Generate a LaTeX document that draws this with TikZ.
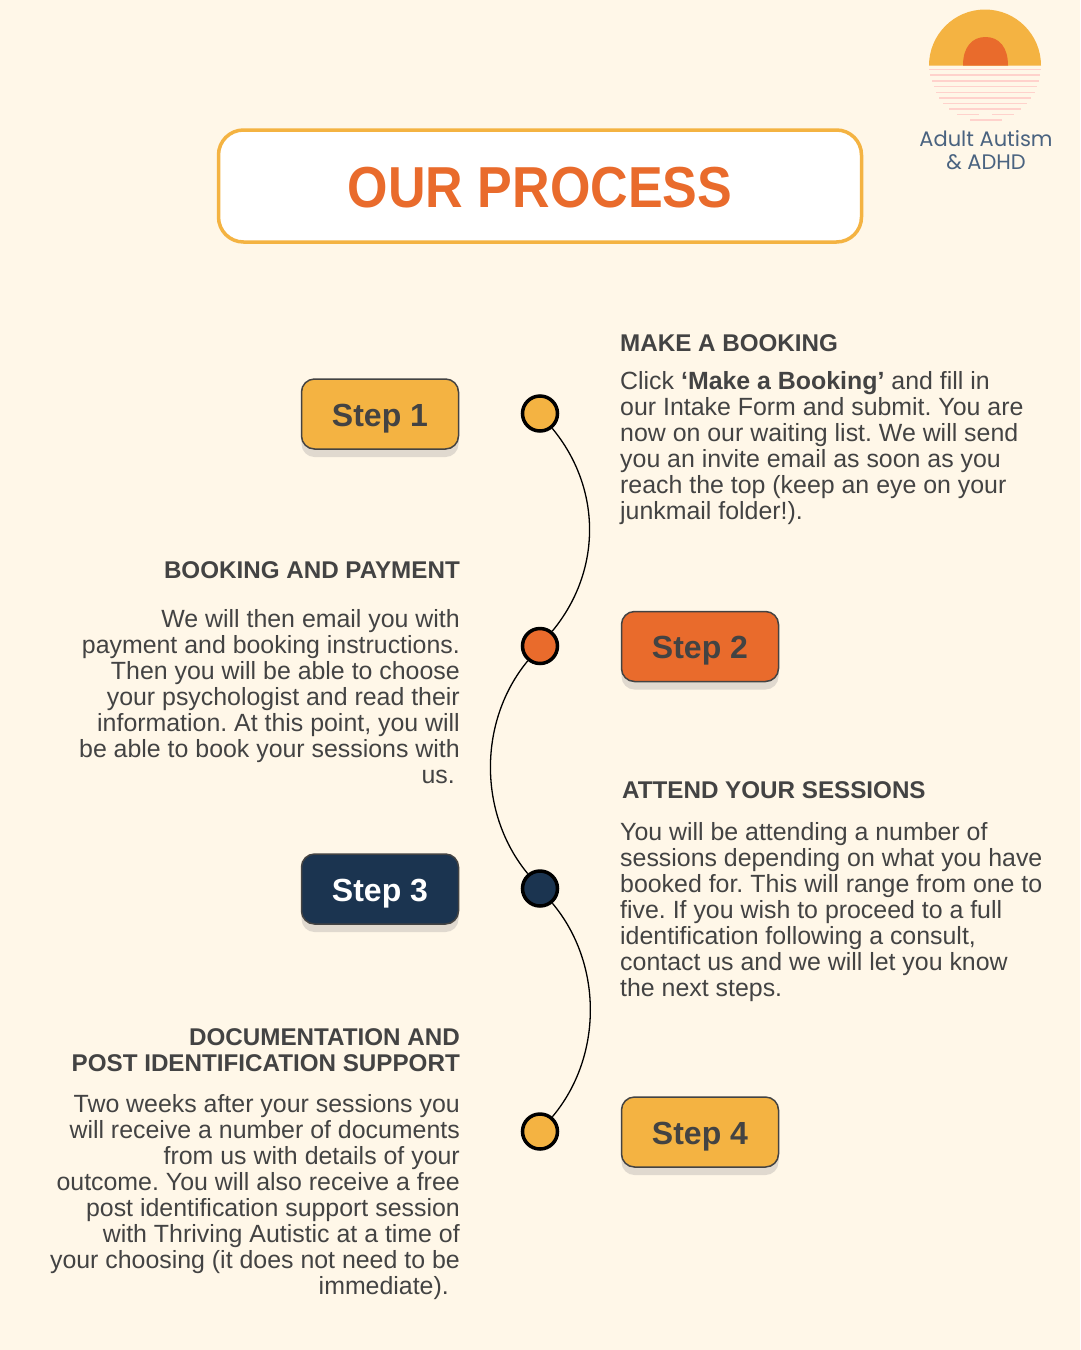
\documentclass[tikz,border=0pt]{standalone}
\usepackage{fontspec}
\setmainfont{Liberation Sans}
\newfontfamily\logofont{Poppins}
\newfontfamily\titlefont[FakeStretch=0.9]{Liberation Sans}
\usetikzlibrary{shadows}
\definecolor{bgc}{HTML}{FFF7E8}
\definecolor{txt}{HTML}{434343}
\definecolor{amber}{HTML}{F4B342}
\definecolor{rust}{HTML}{E96B2C}
\definecolor{navy}{HTML}{1B3450}
\definecolor{shade}{HTML}{E0D9CF}
\definecolor{pinkl}{HTML}{FFD2CC}
\definecolor{logot}{HTML}{4A6380}
\newcommand{\steplabel}[1]{\raisebox{-12pt}[0pt][0pt]{#1}}
\tikzset{
  x=1pt,y=-1pt,
  stepbox/.style={draw=txt,line width=1.5pt,rounded corners=13pt,minimum width=157pt,minimum height=70pt,inner sep=0pt,
    font=\fontsize{32}{32}\selectfont\bfseries,text=txt,general shadow={fill=shade,shadow yshift=-8pt}},
  dot/.style={circle,draw=black,line width=3.5pt,minimum size=35pt,inner sep=0pt},
  link/.style={draw=black,line width=1.3pt},
  head/.style={font=\fontsize{24.2}{26}\selectfont\bfseries,text=txt,inner sep=0pt},
  body/.style={font=\frenchspacing\fontsize{24.9}{26}\selectfont,text=txt,inner sep=0pt},
  sea/.style={draw=pinkl,line width=1.2pt}
}
\begin{document}
\begin{tikzpicture}
\fill[bgc] (0,0) rectangle (1080,1350);
\useasboundingbox (0,0) rectangle (1080,1350);
% logo
\fill[amber] (929,65.5) arc[start angle=180,end angle=0,radius=56pt];
\fill[rust] (963,65.5) .. controls (963,47) and (972,37) .. (985.5,37) .. controls (999,37) and (1008,47) .. (1008,65.5) -- cycle;
\draw[sea] (929,69.7) -- (1041,69.7);
\draw[sea] (930,75) -- (1040,75);
\draw[sea] (932,81) -- (1039,81);
\draw[sea] (934,86.7) -- (1037,86.7);
\draw[sea] (936,92.3) -- (1035,92.3);
\draw[sea] (939,98) -- (1031,98);
\draw[sea] (943,103.3) -- (1027,103.3);
\draw[sea] (949,109) -- (1021,109);
\draw[sea] (957,114.7) -- (979,114.7);
\draw[sea] (992,114.7) -- (1014,114.7);
\draw[sea] (970,120) -- (1002,120);
\node[font=\logofont\fontsize{21}{23.5}\selectfont,text=logot,align=center,inner sep=0pt,anchor=center] (logotext) at (986,150) {Adult Autism\\\& ADHD};
% title
\node[draw=amber,line width=3.5pt,fill=white,rounded corners=25pt,minimum width=643pt,minimum height=112pt,inner sep=0pt] (titlebox) at (540,186) {};
\node[font=\titlefont\fontsize{57.8}{58}\selectfont\bfseries,text=rust,inner sep=0pt] (titletext) at (540,188) {OUR PROCESS};
% steps
\node[stepbox,fill=amber] (s1) at (380,414) {\steplabel{Step 1}};
\node[stepbox,fill=rust] (s2) at (700,646.5) {\steplabel{Step 2}};
\node[stepbox,fill=navy,text=white] (s3) at (380,889) {\steplabel{Step 3}};
\node[stepbox,fill=amber] (s4) at (700,1132) {\steplabel{Step 4}};
% dots
\node[dot,fill=amber] (d1) at (540,413.5) {};
\node[dot,fill=rust] (d2) at (540,646) {};
\node[dot,fill=navy] (d3) at (540,888.5) {};
\node[dot,fill=amber] (d4) at (540,1131.5) {};
\draw[link] (d1) .. controls +(62,75) and +(62,-75) .. (d2);
\draw[link] (d2) .. controls +(-62,75) and +(-62,-75) .. (d3);
\draw[link] (d3) .. controls +(63,75) and +(63,-75) .. (d4);
% text
\node[head,anchor=base west] (h1) at (620,351) {MAKE A BOOKING};
\node[body,anchor=base west,align=left] (b1) at (620,519) {Click \textbf{‘Make a Booking’} and fill in\\our Intake Form and submit. You are\\now on our waiting list. We will send\\you an invite email as soon as you\\reach the top (keep an eye on your\\junkmail folder!).};
\node[head,anchor=base east] (h2) at (460,578) {BOOKING AND PAYMENT};
\node[body,anchor=base east,align=right] (b2) at (460,783) {We will then email you with\\payment and booking instructions.\\Then you will be able to choose\\your psychologist and read their\\information. At this point, you will\\be able to book your sessions with\\us.\hspace*{5pt}};
\node[head,anchor=base west] (h3) at (622,798) {ATTEND YOUR SESSIONS};
\node[body,anchor=base west,align=left] (b3) at (620,996) {You will be attending a number of\\sessions depending on what you have\\booked for. This will range from one to\\five. If you wish to proceed to a full\\identification following a consult,\\contact us and we will let you know\\the next steps.};
\node[head,anchor=base east,align=right] (h4) at (460,1071) {DOCUMENTATION AND\\POST IDENTIFICATION SUPPORT};
\node[body,anchor=base east,align=right] (b4) at (460,1294) {Two weeks after your sessions you\\will receive a number of documents\\from us with details of your\\outcome. You will also receive a free\\post identification support session\\with Thriving Autistic at a time of\\your choosing (it does not need to be\\immediate).\hspace*{11pt}};
\end{tikzpicture}
\end{document}
